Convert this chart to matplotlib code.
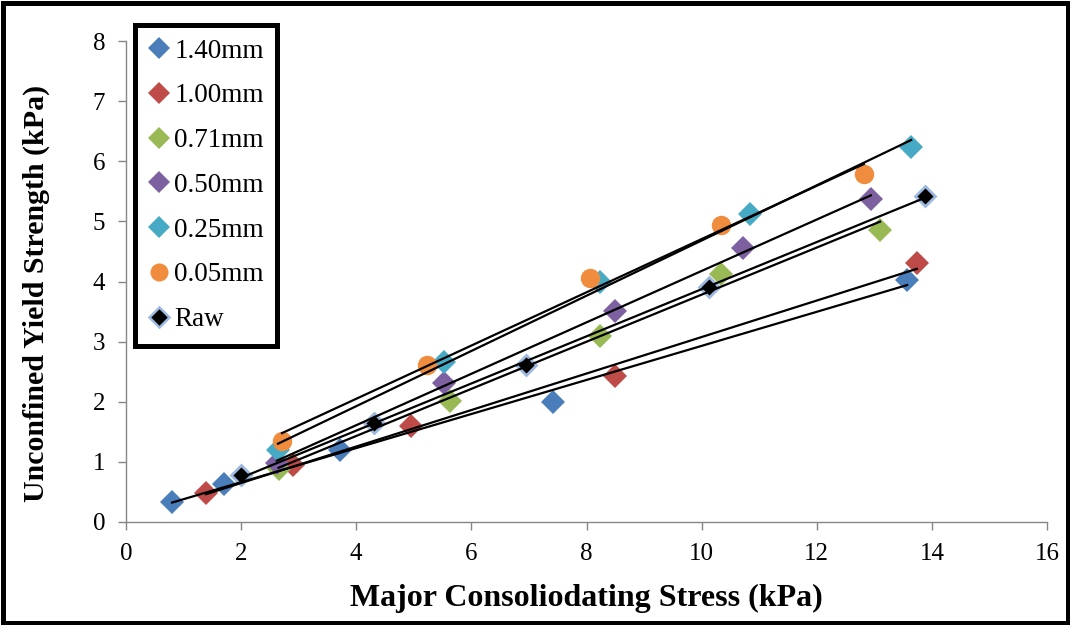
import numpy as np
import matplotlib
matplotlib.use("Agg")
import matplotlib.pyplot as plt
from matplotlib.patches import Rectangle
from matplotlib.lines import Line2D

plt.rcParams['font.family'] = ['Liberation Serif', 'DejaVu Serif']

series_names = ["1.40mm", "1.00mm", "0.71mm", "0.50mm", "0.25mm", "0.05mm", "Raw"]

x_140 = [0.80, 1.70, 3.72, 7.42, 13.57]
y_140 = [0.33, 0.64, 1.19, 2.00, 4.03]
x_100 = [1.39, 2.90, 4.95, 8.50, 13.74]
y_100 = [0.49, 0.95, 1.59, 2.42, 4.31]
x_071 = [2.65, 5.63, 8.23, 10.34, 13.10]
y_071 = [0.88, 2.02, 3.09, 4.13, 4.85]
x_050 = [2.62, 5.52, 8.50, 10.72, 12.94]
y_050 = [0.98, 2.31, 3.51, 4.55, 5.38]
x_025 = [2.64, 5.52, 8.24, 10.84, 13.64]
y_025 = [1.20, 2.66, 4.00, 5.12, 6.24]
x_005 = [2.71, 5.23, 8.06, 10.34, 12.82]
y_005 = [1.35, 2.61, 4.05, 4.94, 5.78]
x_raw = [2.00, 4.31, 6.95, 10.13, 13.88]
y_raw = [0.78, 1.64, 2.61, 3.91, 5.43]

xs = [x_140, x_100, x_071, x_050, x_025, x_005, x_raw]
ys = [y_140, y_100, y_071, y_050, y_025, y_005, y_raw]

colors = ["#4A7EBB", "#BE4B48", "#98B954", "#7D60A0", "#46AAC5", "#F08C3E", "#000000"]
edges = ["#4A7EBB", "#BE4B48", "#98B954", "#7D60A0", "#46AAC5", "#F08C3E", "#9DB9E0"]
markers = ["D", "D", "D", "D", "D", "o", "D"]
sizes = [12, 12, 12, 12, 12, 14, 10.5]

W, H = 1070, 625
fig = plt.figure(figsize=(W/100, H/100), dpi=100)
ax = fig.add_axes([126/W, 1-522/H, (1047-126)/W, (522-41)/H])

for x, y, c, e, m, s in zip(xs, ys, colors, edges, markers, sizes):
    ew = 2.0 if c == "#000000" else 0
    ax.plot(x, y, ls="none", marker=m, ms=s, mfc=c, mec=e, mew=ew, zorder=3)
for x, y in zip(xs, ys):
    x = np.array(x); y = np.array(y)
    k, b = np.polyfit(x, y, 1)
    xx = np.array([x.min(), x.max()])
    ax.plot(xx, k*xx + b, color="black", lw=1.6, zorder=4)

ax.set_xlim(0, 16)
ax.set_ylim(0, 8)
ax.set_xticks(range(0, 17, 2))
ax.set_yticks(range(0, 9))
for sp in ["top", "right"]:
    ax.spines[sp].set_visible(False)
for sp in ["left", "bottom"]:
    ax.spines[sp].set_color("#868686")
    ax.spines[sp].set_linewidth(1.0)
ax.tick_params(axis="both", direction="out", length=6, width=1.0, color="#868686",
               labelsize=18, labelcolor="black")
ax.tick_params(axis="x", pad=9)
ax.tick_params(axis="y", pad=9)

fig.text(586/W, 1-598/H, "Major Consoliodating Stress (kPa)", fontsize=23,
         fontweight="bold", ha="center", va="center")
fig.text(36/W, 1-293/H, "Unconfined Yield Strength (kPa)", fontsize=21.5,
         fontweight="bold", ha="center", va="center", rotation=90)

handles = []
for n, c, e, m in zip(series_names, colors, edges, markers):
    ew = 1.8 if c == "#000000" else 0
    ms = 13 if m == "o" else (10 if c == "#000000" else 11.5)
    handles.append(Line2D([], [], ls="none", marker=m, ms=ms, mfc=c, mec=e, mew=ew, label=n))
leg = fig.legend(handles=handles, loc="upper left", bbox_to_anchor=(135/W, 1-25/H),
                 fontsize=19.5, frameon=True, fancybox=False, edgecolor="black",
                 framealpha=1, handlelength=0.8, handletextpad=0.15, labelspacing=0.73,
                 borderpad=0.5, borderaxespad=0)
leg.get_frame().set_linewidth(3.6)

fig.patches.append(Rectangle((2.5/W, 2.5/H), 1-5/W, 1-5/H, transform=fig.transFigure,
                             fill=False, edgecolor="black", lw=3.6))

fig.savefig("out.png", dpi=100)
